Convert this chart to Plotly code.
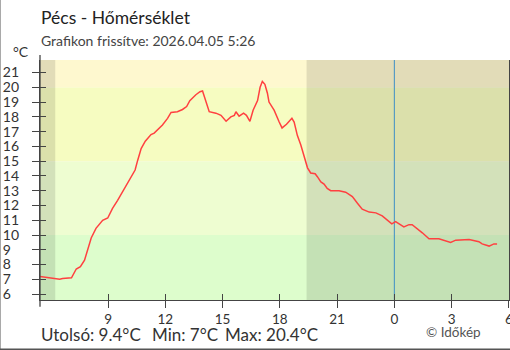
import plotly.graph_objects as go

# ---------------- data ----------------
day1 = "2026-04-04"
day2 = "2026-04-05"

times_day1 = ["05:26", "06:05", "06:17", "06:28", "06:37", "06:58", "07:05", "07:20", "07:33", "07:46",
              "07:56", "08:07", "08:22", "08:43", "08:59", "09:14", "09:30", "09:51", "10:12", "10:25",
              "10:33", "10:44", "10:57", "11:15", "11:25", "11:51", "12:07", "12:18", "12:38", "12:54",
              "13:07", "13:17", "13:36", "13:49", "13:57", "14:05", "14:18", "14:39", "14:55", "15:11",
              "15:26", "15:37", "15:42", "15:52", "16:06", "16:15", "16:26", "16:36", "16:50", "16:58",
              "17:05", "17:13", "17:21", "17:26", "17:42", "17:58", "18:07", "18:21", "18:38", "18:45",
              "18:55", "19:06", "19:16", "19:27", "19:37", "19:51", "19:58", "20:09", "20:19", "20:29",
              "20:40", "21:06", "21:27", "21:48", "22:04", "22:19", "22:41", "23:02", "23:22", "23:52"]
temps_day1 = [7.2, 7.1, 7.05, 7.0, 7.05, 7.05, 7.1, 7.7, 7.85, 8.3,
              9.0, 9.8, 10.45, 11.0, 11.15, 11.8, 12.35, 13.15, 13.85, 14.4,
              15.05, 15.85, 16.35, 16.8, 16.9, 17.45, 17.9, 18.3, 18.35, 18.5,
              18.7, 19.1, 19.5, 19.7, 19.75, 19.25, 18.35, 18.25, 18.1, 17.7,
              18.0, 18.1, 18.35, 18.05, 18.25, 18.1, 17.7, 18.45, 19.1, 20.0,
              20.4, 20.2, 19.6, 19.0, 18.45, 17.65, 17.25, 17.5, 17.9, 17.65,
              16.75, 16.1, 15.3, 14.55, 14.2, 14.15, 13.95, 13.6, 13.45, 13.15,
              13.0, 13.0, 12.9, 12.6, 12.15, 11.75, 11.55, 11.5, 11.3, 10.75]
times_day2 = ["00:04", "00:30", "00:46", "00:56", "01:28", "01:49", "02:20", "02:57", "03:13", "03:55",
              "04:26", "04:36", "04:58", "05:13", "05:23"]
temps_day2 = [10.9, 10.55, 10.7, 10.7, 10.15, 9.75, 9.75, 9.5, 9.65, 9.7,
              9.55, 9.4, 9.25, 9.4, 9.4]

times = [f"{day1} {t}" for t in times_day1] + [f"{day2} {t}" for t in times_day2]
temps = temps_day1 + temps_day2

x_range = ["2026-04-04 05:26", "2026-04-05 06:00:30"]
y_range = [5.6, 21.85]
x_tick_vals = ["2026-04-04 09:00", "2026-04-04 12:00", "2026-04-04 15:00", "2026-04-04 18:00",
               "2026-04-04 21:00", "2026-04-05 00:00", "2026-04-05 03:00", "2026-04-05 06:00"]
x_tick_labels = ["9", "12", "15", "18", "21", "0", "3", "6"]
y_tick_vals = list(range(6, 22))
y_tick_labels = [f"{v}\u2007" if v < 10 else str(v) for v in y_tick_vals]

sunrise = "2026-04-04 06:14"
sunset = "2026-04-04 19:24"
midnight = "2026-04-05 00:00"

band_edges = [5.6, 10, 15, 20, 21.85]
band_colors = ["#ddfdcc", "#eefdd1", "#f6fcc1", "#fef8cf"]

title_text = "Pécs - Hőmérséklet"
subtitle_text = "Grafikon frissítve: 2026.04.05 5:26"
unit_text = "°C"
credit_text = "© Időkép"

# ---------------- figure ----------------
FONT = "Lato"
AX = "#444444"
TXT = "#333333"

fig = go.Figure()
fig.add_trace(go.Scatter(x=times, y=temps, mode="lines",
                         line=dict(color="#ff4040", width=1.5),
                         hoverinfo="skip", showlegend=False))
# helper trace for the second (inside-tick) axis pair
fig.add_trace(go.Scatter(x=times, y=temps, mode="none", xaxis="x2", yaxis="y2",
                         hoverinfo="skip", showlegend=False))

shapes = []
for lo, hi, col in zip(band_edges[:-1], band_edges[1:], band_colors):
    shapes.append(dict(type="rect", xref="paper", yref="y", x0=0, x1=1, y0=lo, y1=hi,
                       fillcolor=col, line=dict(width=0), layer="below"))
for a, b in [(x_range[0], sunrise), (sunset, x_range[1])]:
    shapes.append(dict(type="rect", xref="x", yref="paper", x0=a, x1=b, y0=0, y1=1,
                       fillcolor="rgba(0,0,0,0.11)", line=dict(width=0), layer="below"))
shapes.append(dict(type="line", xref="x", yref="paper", x0=midnight, x1=midnight, y0=0, y1=1,
                   line=dict(color="#3d8fc6", width=1), layer="below"))
# y axis line extending slightly beyond plot area
shapes.append(dict(type="line", xref="paper", yref="paper", x0=0, x1=0, y0=-0.028, y1=1.021,
                   line=dict(color=AX, width=1.3)))
# outer frame (left + bottom)
shapes.append(dict(type="line", xref="paper", yref="paper", x0=-40.5 / 469, x1=-40.5 / 469,
                   y0=-50 / 240, y1=300 / 240, line=dict(color="#555555", width=2)))
shapes.append(dict(type="line", xref="paper", yref="paper", x0=-40 / 469, x1=470 / 469,
                   y0=-49.5 / 240, y1=-49.5 / 240, line=dict(color="#555555", width=2)))

last_v, min_v, max_v = temps[-1], min(temps), max(temps)
stats = [(f"Utolsó: {last_v:g}°C", 41), (f"Min: {min_v:g}°C", 152), (f"Max: {max_v:g}°C", 225)]

def px_x(px):
    return (px - 40) / 469

def px_y(py):
    return (300 - py) / 240

annotations = [
    dict(text=title_text, x=px_x(39), y=px_y(18), xanchor="left", yanchor="middle",
         font=dict(family=FONT, size=17.5, color="#222222")),
    dict(text=subtitle_text, x=px_x(39), y=px_y(40.5), xanchor="left", yanchor="middle",
         font=dict(family=FONT, size=14, color="#444444")),
    dict(text=unit_text, x=px_x(11), y=px_y(51.5), xanchor="left", yanchor="middle",
         font=dict(family=FONT, size=14, color=TXT)),
    dict(text=credit_text, x=px_x(424), y=px_y(331.5), xanchor="left", yanchor="middle",
         font=dict(family=FONT, size=13.5, color="#555555")),
]
for txt, px in stats:
    annotations.append(dict(text=txt, x=px_x(px - 2), y=px_y(334.5), xanchor="left", yanchor="middle",
                            font=dict(family=FONT, size=17, color=TXT)))
for a in annotations:
    a.update(xref="paper", yref="paper", showarrow=False)

common_x = dict(type="date", range=x_range, tickvals=x_tick_vals, showgrid=False, zeroline=False,
                fixedrange=True, automargin=False)
common_y = dict(range=y_range, tickvals=y_tick_vals, showgrid=False, zeroline=False, fixedrange=True,
                automargin=False)

fig.update_layout(
    width=510, height=350,
    margin=dict(l=40, r=1, t=60, b=50),
    paper_bgcolor="white", plot_bgcolor="white",
    showlegend=False,
    font=dict(family=FONT, color=TXT),
    xaxis=dict(**common_x, ticktext=x_tick_labels, ticks="outside", ticklen=7, tickwidth=1.3,
               tickcolor=AX, showline=True, linecolor=AX, linewidth=1.3,
               ticklabelstandoff=0, ticklabeloverflow="allow",
               tickfont=dict(family=FONT, size=13.5, color=TXT)),
    xaxis2=dict(**common_x, overlaying="x", anchor="y2", side="bottom", ticks="inside",
                ticklen=6, tickwidth=1.3, tickcolor=AX, showticklabels=False, showline=False),
    yaxis=dict(**common_y, ticktext=y_tick_labels, ticks="outside", ticklen=7, tickwidth=1.3,
               tickcolor=AX, showline=True, mirror=True, linecolor=AX, linewidth=1.3,
               ticklabelstandoff=10, tickfont=dict(family=FONT, size=14, color=TXT)),
    yaxis2=dict(**common_y, overlaying="y", anchor="x2", side="left", ticks="inside",
                ticklen=6, tickwidth=1.3, tickcolor=AX, showticklabels=False, showline=False),
    shapes=shapes,
    annotations=annotations,
)

fig.write_html("out.html")
